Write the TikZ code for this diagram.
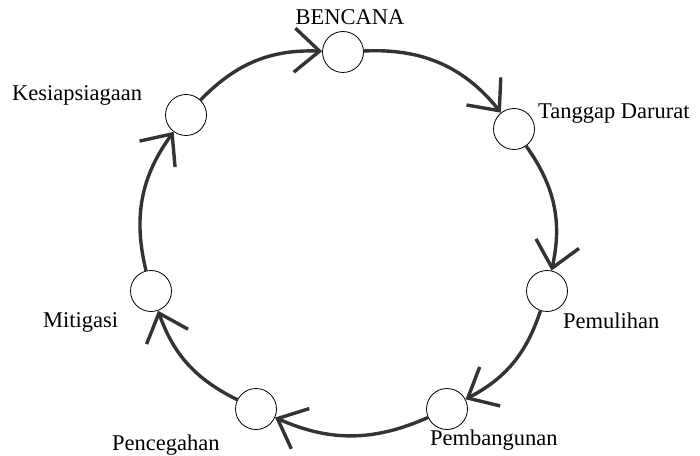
\documentclass[tikz,border=0pt]{standalone}
\usepackage{fontspec}
\setmainfont{Liberation Serif}
\usetikzlibrary{arrows.meta}
\begin{document}
\begin{tikzpicture}[x=1pt,y=1pt,
  stage/.style={circle,draw=black,line width=0.8pt,fill=white,minimum size=41pt,inner sep=0pt},
  lbl/.style={inner sep=0pt,font=\fontsize{22.5}{25}\selectfont},
  ring/.style={draw=black!80,line width=3.4pt,-{Straight Barb[length=25pt,width=44pt]}}]
\useasboundingbox (0,0) rectangle (700,455);
\node[stage] (B)  at (343,403) {};
\node[stage] (T)  at (514,326) {};
\node[stage] (Pm) at (547,164) {};
\node[stage] (Pb) at (447,46) {};
\node[stage] (Pc) at (256,46) {};
\node[stage] (M)  at (151,164) {};
\node[stage] (K)  at (186,340) {};
\draw[ring] (B)  to[bend left=27] (T);
\draw[ring] (T)  to[bend left=24] (Pm);
\draw[ring] (Pm) to[bend left=22] (Pb);
\draw[ring] (Pb) to[bend left=24] (Pc);
\draw[ring] (Pc) to[bend left=22] (M);
\draw[ring] (M)  to[bend left=25] (K);
\draw[ring] (K)  to[bend left=24] (B);
\node[lbl,anchor=base] (tB) at (350,430) {BENCANA};
\node[lbl,anchor=base west] (tT) at (538,336) {Tanggap Darurat};
\node[lbl,anchor=base west] (tPm) at (563,127) {Pemulihan};
\node[lbl,anchor=base west] (tPb) at (430,10) {Pembangunan};
\node[lbl,anchor=base west] (tPc) at (112,5) {Pencegahan};
\node[lbl,anchor=base west] (tM) at (43,128) {Mitigasi};
\node[lbl,anchor=base west] (tK) at (12,354) {Kesiapsiagaan};
\end{tikzpicture}
\end{document}
